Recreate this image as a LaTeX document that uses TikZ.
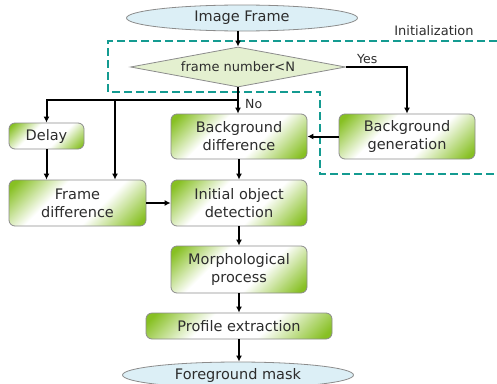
\documentclass[tikz,border=0pt]{standalone}
\usepackage{fontspec}
\setmainfont{DejaVu Sans}
\usetikzlibrary{shapes.geometric,arrows.meta}

\definecolor{leaf}{RGB}{135,192,35}
\definecolor{paleleaf}{RGB}{228,240,208}
\definecolor{ice}{RGB}{220,239,246}
\definecolor{edge}{RGB}{140,140,140}
\definecolor{initline}{RGB}{20,155,145}
\definecolor{ink}{RGB}{45,45,45}

% green corners fading to a white diagonal band
\pgfdeclarehorizontalshading{leafcorners}{100bp}{
  color(0bp)=(leaf); color(18bp)=(leaf); color(38bp)=(white);
  color(60bp)=(white); color(82bp)=(leaf); color(100bp)=(leaf)}

\tikzset{
  procbox/.style={rectangle, rounded corners=6pt, draw=edge, line width=0.8pt,
    shading=leafcorners, shading angle=-45,
    text=ink, font=\fontsize{14.5}{18}\selectfont, align=center, inner sep=0pt},
  terminal/.style={ellipse, draw=edge, line width=0.8pt, fill=ice, text=ink,
    font=\fontsize{14.5}{18}\selectfont, inner sep=0pt},
  decision/.style={diamond, draw=edge, line width=0.8pt, fill=paleleaf, text=ink,
    font=\fontsize{13}{16}\selectfont, inner sep=0pt, aspect=5.4},
  flow/.style={line width=2pt, -{Latex[length=6pt,width=6pt]}},
  tag/.style={text=ink, font=\fontsize{12.5}{15}\selectfont, inner sep=0pt},
  initzone/.style={initline, line width=1.8pt, dash pattern=on 8pt off 4pt}
}

\begin{document}
\begin{tikzpicture}[x=1pt, y=-1pt]
  \useasboundingbox (0,0) rectangle (497,383);
  \clip (0,0) rectangle (497,383);

  % initialization region
  \draw[initzone] (497,41) -- (108,41) -- (108,92) -- (320,92) -- (320,174) -- (497,174);
  \node[tag, font=\fontsize{13}{16}\selectfont] (initlabel) at (434,31) {Initialization};

  % nodes
  \node[terminal, minimum width=231pt, minimum height=26pt] (img) at (242,18) {Image Frame};
  \node[decision, minimum width=215pt, minimum height=40pt] (dec) at (238,67) {frame number<N};
  \node[procbox, minimum width=75pt, minimum height=26pt] (delay) at (46.5,136) {Delay};
  \node[procbox, minimum width=136pt, minimum height=45pt] (bgdiff) at (239,136.5) {Background\\difference};
  \node[procbox, minimum width=136pt, minimum height=45pt] (bggen) at (407,136.5) {Background\\generation};
  \node[procbox, minimum width=137pt, minimum height=46pt] (fdiff) at (77.5,203) {Frame\\difference};
  \node[procbox, minimum width=136pt, minimum height=46pt] (init) at (239,203) {Initial object\\detection};
  \node[procbox, minimum width=136pt, minimum height=47pt] (morph) at (239,269.5) {Morphological\\process};
  \node[procbox, minimum width=186pt, minimum height=26pt] (prof) at (239,326) {Profile extraction};
  \node[terminal, minimum width=231pt, minimum height=26pt] (fg) at (238,375) {Foreground mask};

  % branch points
  \coordinate (split) at (239,100);
  \coordinate (fdtap) at (115,100);

  % connectors
  \draw[flow] (img.south -| dec.north) -- (dec.north);
  \draw[flow] (dec.east) -| (bggen.north);
  \node[tag, anchor=south west] (yes) at (357,64) {Yes};
  \draw[flow] (dec.south) -- (dec.south |- bgdiff.north);
  \node[tag, anchor=west] (no) at (245,104) {No};
  \draw[flow] (split) -| (delay.north);
  \draw[flow] (fdtap) -- (fdtap |- fdiff.north);
  \draw[flow] (delay.south) -- (delay.south |- fdiff.north);
  \draw[flow] (bggen.west) -- (bgdiff.east);
  \draw[flow] (fdiff.east) -- (init.west);
  \draw[flow] (bgdiff.south) -- (init.north);
  \draw[flow] (init.south) -- (morph.north);
  \draw[flow] (morph.south) -- (prof.north);
  \draw[flow] (prof.south) -- (prof.south |- fg.north);
\end{tikzpicture}
\end{document}
